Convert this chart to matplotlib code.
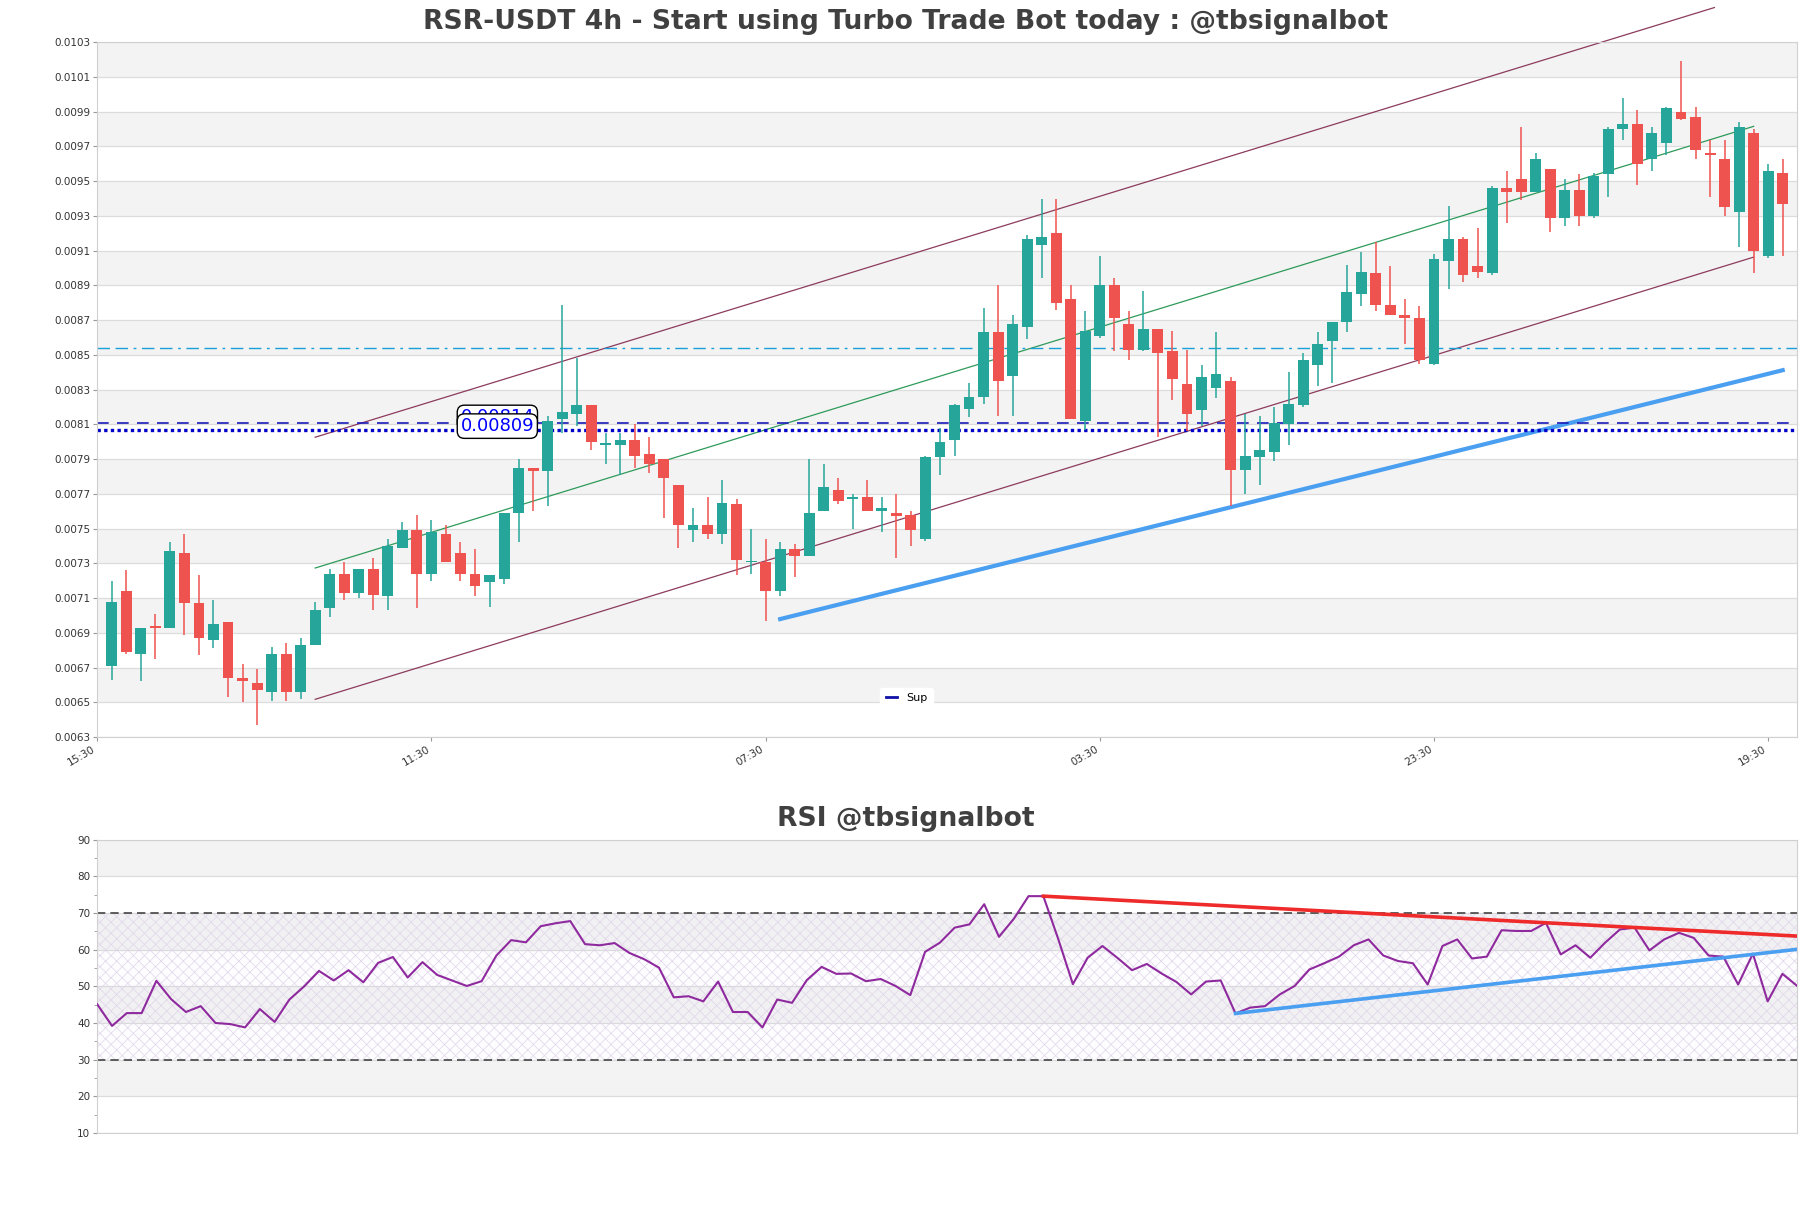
import matplotlib
matplotlib.use("Agg")
import matplotlib.pyplot as plt
import numpy as np
from matplotlib.lines import Line2D

plt.rcParams["hatch.linewidth"] = 0.5

# ── data (price candles, index 1..116) ─────────────────────────────────
OPEN = [0.00671, 0.00714, 0.00678, 0.00694, 0.00693, 0.00736, 0.00707, 0.00686, 0.00696, 0.00664,
        0.00661, 0.00656, 0.00678, 0.00656, 0.00683, 0.00704, 0.00724, 0.00713, 0.00727, 0.00711,
        0.00739, 0.00749, 0.00724, 0.00747, 0.00736, 0.00724, 0.00719, 0.00721, 0.00759, 0.00785,
        0.00783, 0.00813, 0.00816, 0.00821, 0.00798, 0.00798, 0.00801, 0.00793, 0.00790, 0.00775,
        0.00749, 0.00752, 0.00747, 0.00764, 0.00731, 0.00731, 0.00714, 0.00738, 0.00734, 0.00760,
        0.00772, 0.00767, 0.00768, 0.00760, 0.00759, 0.00758, 0.00744, 0.00791, 0.00801, 0.00819,
        0.00826, 0.00863, 0.00838, 0.00866, 0.00913, 0.00920, 0.00882, 0.00812, 0.00861, 0.00890,
        0.00868, 0.00853, 0.00865, 0.00852, 0.00833, 0.00818, 0.00831, 0.00835, 0.00784, 0.00791,
        0.00794, 0.00810, 0.00821, 0.00844, 0.00858, 0.00869, 0.00885, 0.00897, 0.00879, 0.00873,
        0.00871, 0.00845, 0.00904, 0.00917, 0.00901, 0.00897, 0.00946, 0.00951, 0.00944, 0.00957,
        0.00929, 0.00945, 0.00930, 0.00954, 0.00980, 0.00983, 0.00963, 0.00972, 0.00990, 0.00987,
        0.00966, 0.00963, 0.00932, 0.00978, 0.00907, 0.00955]
HIGH = [0.00720, 0.00726, 0.00693, 0.00701, 0.00742, 0.00747, 0.00723, 0.00709, 0.00696, 0.00672,
        0.00669, 0.00682, 0.00684, 0.00687, 0.00708, 0.00727, 0.00731, 0.00727, 0.00733, 0.00744,
        0.00754, 0.00758, 0.00755, 0.00752, 0.00742, 0.00738, 0.00723, 0.00759, 0.00790, 0.00785,
        0.00815, 0.00879, 0.00848, 0.00821, 0.00805, 0.00805, 0.00810, 0.00803, 0.00790, 0.00775,
        0.00762, 0.00768, 0.00778, 0.00767, 0.00750, 0.00744, 0.00742, 0.00741, 0.00790, 0.00787,
        0.00779, 0.00770, 0.00778, 0.00768, 0.00770, 0.00760, 0.00792, 0.00808, 0.00822, 0.00834,
        0.00877, 0.00890, 0.00873, 0.00919, 0.00940, 0.00940, 0.00890, 0.00875, 0.00907, 0.00894,
        0.00875, 0.00887, 0.00865, 0.00864, 0.00853, 0.00844, 0.00863, 0.00837, 0.00816, 0.00815,
        0.00820, 0.00840, 0.00851, 0.00863, 0.00869, 0.00902, 0.00909, 0.00915, 0.00901, 0.00882,
        0.00878, 0.00908, 0.00936, 0.00918, 0.00923, 0.00947, 0.00956, 0.00981, 0.00966, 0.00957,
        0.00951, 0.00954, 0.00955, 0.00981, 0.00998, 0.00991, 0.00981, 0.00993, 0.01019, 0.00993,
        0.00974, 0.00974, 0.00984, 0.00980, 0.00960, 0.00963]
LOW = [0.00663, 0.00678, 0.00662, 0.00675, 0.00693, 0.00689, 0.00677, 0.00681, 0.00653, 0.00650,
       0.00637, 0.00651, 0.00651, 0.00652, 0.00683, 0.00699, 0.00709, 0.00710, 0.00703, 0.00703,
       0.00739, 0.00704, 0.00720, 0.00731, 0.00720, 0.00711, 0.00705, 0.00718, 0.00742, 0.00760,
       0.00763, 0.00805, 0.00809, 0.00795, 0.00787, 0.00781, 0.00785, 0.00782, 0.00756, 0.00739,
       0.00742, 0.00744, 0.00741, 0.00723, 0.00724, 0.00697, 0.00711, 0.00722, 0.00734, 0.00760,
       0.00764, 0.00750, 0.00760, 0.00748, 0.00733, 0.00740, 0.00743, 0.00781, 0.00792, 0.00814,
       0.00822, 0.00815, 0.00815, 0.00859, 0.00894, 0.00876, 0.00813, 0.00807, 0.00860, 0.00852,
       0.00847, 0.00852, 0.00803, 0.00824, 0.00806, 0.00809, 0.00825, 0.00763, 0.00770, 0.00775,
       0.00789, 0.00798, 0.00820, 0.00832, 0.00834, 0.00863, 0.00878, 0.00875, 0.00873, 0.00856,
       0.00845, 0.00844, 0.00888, 0.00892, 0.00894, 0.00896, 0.00926, 0.00939, 0.00944, 0.00921,
       0.00924, 0.00924, 0.00929, 0.00941, 0.00974, 0.00948, 0.00956, 0.00965, 0.00985, 0.00963,
       0.00941, 0.00930, 0.00912, 0.00897, 0.00906, 0.00907]
CLOSE = [0.00708, 0.00679, 0.00693, 0.00693, 0.00737, 0.00707, 0.00687, 0.00695, 0.00664, 0.00662,
         0.00657, 0.00678, 0.00656, 0.00683, 0.00703, 0.00724, 0.00713, 0.00727, 0.00712, 0.00740,
         0.00749, 0.00724, 0.00748, 0.00731, 0.00724, 0.00717, 0.00723, 0.00759, 0.00785, 0.00783,
         0.00812, 0.00817, 0.00821, 0.00800, 0.00799, 0.00801, 0.00792, 0.00787, 0.00779, 0.00752,
         0.00752, 0.00747, 0.00765, 0.00732, 0.00731, 0.00714, 0.00738, 0.00734, 0.00759, 0.00774,
         0.00766, 0.00768, 0.00760, 0.00762, 0.00757, 0.00749, 0.00791, 0.00800, 0.00821, 0.00826,
         0.00863, 0.00835, 0.00868, 0.00917, 0.00918, 0.00880, 0.00813, 0.00864, 0.00890, 0.00871,
         0.00853, 0.00865, 0.00851, 0.00836, 0.00816, 0.00837, 0.00839, 0.00784, 0.00792, 0.00795,
         0.00811, 0.00822, 0.00847, 0.00856, 0.00869, 0.00886, 0.00898, 0.00879, 0.00873, 0.00871,
         0.00847, 0.00905, 0.00917, 0.00896, 0.00898, 0.00946, 0.00944, 0.00944, 0.00963, 0.00929,
         0.00945, 0.00930, 0.00953, 0.00980, 0.00983, 0.00960, 0.00978, 0.00992, 0.00986, 0.00968,
         0.00965, 0.00935, 0.00981, 0.00910, 0.00956, 0.00937]

RSI = [45.1, 39.2, 42.7, 42.7, 51.5, 46.5, 43.0, 44.6, 40.0, 39.7,
       38.8, 43.8, 40.3, 46.4, 50.0, 54.2, 51.6, 54.4, 51.1, 56.4,
       58.0, 52.4, 56.6, 53.1, 51.6, 50.1, 51.4, 58.4, 62.6, 62.0,
       66.4, 67.2, 67.8, 61.5, 61.2, 61.8, 59.1, 57.4, 55.1, 47.0,
       47.3, 45.9, 51.3, 43.0, 43.0, 38.8, 46.4, 45.5, 51.7, 55.3,
       53.4, 53.5, 51.4, 52.0, 50.1, 47.6, 59.4, 61.9, 66.0, 66.9,
       72.4, 63.5, 68.4, 74.6, 74.6, 63.0, 50.6, 57.8, 61.0, 57.8,
       54.4, 56.1, 53.5, 51.2, 47.8, 51.3, 51.6, 42.6, 44.2, 44.6,
       47.8, 50.1, 54.6, 56.3, 58.1, 61.2, 62.8, 58.4, 56.9, 56.3,
       50.5, 61.0, 62.8, 57.6, 58.1, 65.3, 65.1, 65.1, 67.3, 58.7,
       61.2, 57.8, 61.9, 65.5, 66.0, 59.8, 62.8, 64.6, 63.2, 58.4,
       58.1, 50.5, 58.9, 45.9, 53.4, 50.1]

TICK_POS = [0, 23, 46, 69, 92, 115]
TICK_LABELS = ["15:30", "11:30", "07:30", "03:30", "23:30", "19:30"]

# trend channel / support (x index, price)
CH_UPPER = [(15, 0.008026), (111.3, 0.010500)]
CH_MID = [(15, 0.007273), (114, 0.009816)]
CH_LOWER = [(15, 0.006517), (114, 0.009063)]
SUPPORT = [(47, 0.006979), (116, 0.008412)]

LVL_CYAN = 0.00854
LVL_DASH = 0.00811
LVL_DOT = 0.008065
LABEL_TEXTS = ["0.00814", "0.00809"]
LABEL_Y = [0.00814, 0.00809]

RSI_RED = [(64, 74.6), (115, 63.7)]
RSI_BLUE = [(77, 42.6), (115, 60.1)]

UP = "#26a69a"
DOWN = "#ef5350"
BAND = "#f3f3f3"
GRID = "#dcdcdc"
TXT = "#333333"

fig = plt.figure(figsize=(18.11, 12.08), dpi=100)
ax = fig.add_axes([0.0537, 0.3899, 0.9387, 0.5751])
ax2 = fig.add_axes([0.0537, 0.0621, 0.9387, 0.2428])

# ── price chart ──────────────────────────────────────────────────────
ylo, yhi = 0.0063, 0.0103
yt = np.round(np.arange(ylo, yhi + 1e-9, 0.0002), 4)
for k in range(len(yt) - 1):
    if k % 2 == 1:
        ax.axhspan(yt[k], yt[k + 1], color=BAND, lw=0, zorder=0)
for v in yt:
    ax.axhline(v, color=GRID, lw=0.9, zorder=0.5)

x = np.arange(1, len(OPEN) + 1)
o = np.array(OPEN); h = np.array(HIGH); l = np.array(LOW); c = np.array(CLOSE)
cols = np.where(c >= o, UP, DOWN)
ax.vlines(x, l, h, colors=cols, lw=1.1, zorder=3)
body = np.maximum(np.abs(c - o), 0.000006)
ax.bar(x, body, bottom=np.minimum(o, c), width=0.75, color=cols, lw=0, zorder=4)

ax.plot(*zip(*CH_UPPER), color="#8c3b5c", lw=0.9, zorder=2, clip_on=False)
ax.plot(*zip(*CH_LOWER), color="#8c3b5c", lw=0.9, zorder=2)
ax.plot(*zip(*CH_MID), color="#2e9a5a", lw=0.9, zorder=2)
ax.plot(*zip(*SUPPORT), color="#4a9ff0", lw=3, zorder=2)

ax.axhline(LVL_CYAN, color="#1aa0d8", lw=1, ls=(0, (9, 4, 9, 4, 2, 4)), zorder=2)
ax.axhline(LVL_DASH, color="#1a1ab8", lw=1.2, ls=(0, (7, 5)), zorder=2)
ax.axhline(LVL_DOT, color="#0000c8", lw=2.4, ls=(0, (1, 1)), zorder=2)

for txt, yv in zip(LABEL_TEXTS, LABEL_Y):
    ax.text(25, yv, txt, color="#0000ff", fontsize=13, ha="left", va="center", zorder=6,
            bbox=dict(boxstyle="round,pad=0.18,rounding_size=0.4", fc="white", ec="black", lw=1))

ax.set_xlim(0, 117)
ax.set_ylim(ylo, yhi)
ax.set_yticks(yt)
ax.set_yticklabels([f"{v:.4f}" for v in yt], fontsize=7.5, color=TXT)
ax.set_xticks(TICK_POS)
ax.set_xticklabels(TICK_LABELS, rotation=30, ha="right", fontsize=7.5, color=TXT)
ax.tick_params(axis="both", length=3, color="#999999", pad=2)
for s in ax.spines.values():
    s.set_color("#d0d0d0")

ax.legend(handles=[Line2D([], [], color="#1010a8", lw=2)], labels=["Sup"], loc="center",
          bbox_to_anchor=(0.476, 0.056), fontsize=8, handlelength=1.0, frameon=True,
          fancybox=True, framealpha=1, edgecolor="white", borderpad=0.5)

fig.text(0.5, 0.9818, "RSR-USDT 4h - Start using Turbo Trade Bot today : @tbsignalbot",
         ha="center", va="center", fontsize=19.2, fontweight="bold", color="#404040")

# ── RSI chart ────────────────────────────────────────────────────────
rt = np.arange(10, 91, 10)
for k in range(len(rt) - 1):
    if k % 2 == 1:
        ax2.axhspan(rt[k], rt[k + 1], color=BAND, lw=0, zorder=0)
for v in rt:
    ax2.axhline(v, color=GRID, lw=0.9, zorder=0.5)

rx = np.arange(len(RSI))
ax2.fill_between([0, len(RSI) - 1], 30, 70, facecolor=(0.6, 0.4, 0.8, 0.02),
                 edgecolor="#e0d6ea", hatch="xxx", lw=0, zorder=1)
ax2.axhline(30, color="#444444", lw=1.2, ls=(0, (5, 3)), zorder=2)
ax2.axhline(70, color="#444444", lw=1.2, ls=(0, (5, 3)), zorder=2)
ax2.plot(rx, RSI, color="#8e2a9e", lw=1.5, zorder=3)
ax2.plot(*zip(*RSI_RED), color="#ee2a2a", lw=2.6, zorder=4)
ax2.plot(*zip(*RSI_BLUE), color="#4a9ff0", lw=2.6, zorder=4)

ax2.set_xlim(0, len(RSI) - 1)
ax2.set_ylim(10, 90)
ax2.set_yticks(rt)
ax2.set_yticks(np.arange(15, 90, 10), minor=True)
ax2.set_yticklabels([str(v) for v in rt], fontsize=7.5, color=TXT)
ax2.set_xticks([])
ax2.tick_params(axis="y", length=3, color="#999999", pad=2)
ax2.tick_params(axis="y", which="minor", length=2, color="#999999")
for s in ax2.spines.values():
    s.set_color("#d0d0d0")

fig.text(0.5, 0.322, "RSI @tbsignalbot", ha="center", va="center", fontsize=19.2,
         fontweight="bold", color="#404040")

fig.savefig("out.png", dpi=100)
